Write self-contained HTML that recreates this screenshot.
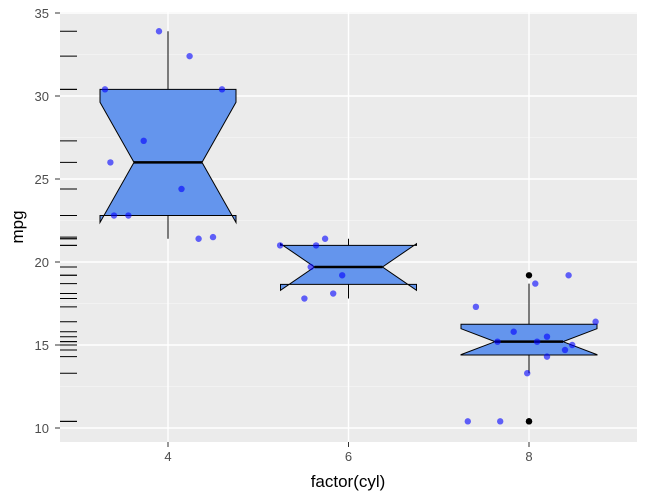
<!DOCTYPE html>
<html><head><meta charset="utf-8"><style>
body{margin:0;background:#fff;}
svg text{font-family:"Liberation Sans",sans-serif;}
</style></head><body>
<svg id="chart" width="649" height="498" xmlns="http://www.w3.org/2000/svg">
<rect x="60" y="12" width="577" height="430" fill="#ebebeb"/>
<g id="grid"></g><g id="marks"></g><g id="axes"></g>
<text x="348" y="487" font-size="17" text-anchor="middle" fill="#000">factor(cyl)</text>
<text x="23" y="227" font-size="17" text-anchor="middle" fill="#000" transform="rotate(-90 23 227)">mpg</text>
</svg>
<script>
const categories=["4","6","8"];
const mpg4=[33.9,32.4,30.4,30.4,27.3,26.0,24.4,22.8,22.8,21.4,21.5];
const jit4=[-0.10,0.24,-0.70,0.60,-0.27,-0.64,0.15,-0.60,-0.44,0.34,0.50];
const mpg6=[21.0,21.0,21.4,19.2,19.7,17.8,18.1];
const jit6=[-0.76,-0.36,-0.26,-0.07,-0.42,-0.49,-0.17];
const mpg8=[17.3,18.7,19.2,16.4,15.8,15.2,15.2,15.5,14.3,14.7,15.0,13.3,10.4,10.4];
const jit8=[-0.59,0.07,0.44,0.74,-0.17,-0.35,0.09,0.20,0.20,0.40,0.48,-0.02,-0.68,-0.32];
const yTicks=[10,15,20,25,30,35];
const ns="http://www.w3.org/2000/svg";
const X=i=>168+i*180.5, Y=v=>428-(v-10)*16.6;
function el(t,a,p){const e=document.createElementNS(ns,t);for(const k in a)e.setAttribute(k,a[k]);document.getElementById(p).appendChild(e);return e;}
function q(s,p){const pos=(s.length-1)*p,lo=Math.floor(pos),hi=Math.ceil(pos);return s[lo]+(s[hi]-s[lo])*(pos-lo);}
for(let v=12.5;v<35;v+=5){const e=el('line',{x1:60,x2:637,y1:Y(v),y2:Y(v),stroke:'#f5f5f5','stroke-width':0.8},'grid');

}
yTicks.forEach(v=>{const e=el('line',{x1:60,x2:637,y1:Y(v),y2:Y(v),stroke:'#fff','stroke-width':1.4},'grid');


const t=el('text',{x:49,y:Y(v)+5,'font-size':13,'text-anchor':'end',fill:'#4d4d4d'},'axes');t.textContent=v;


const k=el('line',{x1:55,x2:60,y1:Y(v),y2:Y(v),stroke:'#333'},'axes');

});
categories.forEach((c,i)=>{const e=el('line',{x1:X(i),x2:X(i),y1:12,y2:442,stroke:'#fff','stroke-width':1.4},'grid');


const t=el('text',{x:X(i),y:461,'font-size':13,'text-anchor':'middle',fill:'#4d4d4d'},'axes');t.textContent=c;


const k=el('line',{x1:X(i),x2:X(i),y1:442,y2:447,stroke:'#333'},'axes');

});
const groups=[mpg4,mpg6,mpg8], jits=[jit4,jit6,jit8];
groups.forEach((g,i)=>{
 const s=[...g].sort((a,b)=>a-b), med=q(s,.5), q1=q(s,.25), q3=q(s,.75), iqr=q3-q1;
 const inl=s.filter(v=>v>=q1-1.5*iqr&&v<=q3+1.5*iqr), out=s.filter(v=>v<q1-1.5*iqr||v>q3+1.5*iqr);
 const nl=med-1.58*iqr/Math.sqrt(s.length), nu=med+1.58*iqr/Math.sqrt(s.length);
 const cx=X(i), hw=68, nw=34;
 const w=el('line',{x1:cx,x2:cx,y1:Y(inl[0]),y2:Y(inl[inl.length-1]),stroke:'#000','stroke-width':1},'marks');
 
 
 const pts=[[cx-hw,Y(q3)],[cx-hw,Y(nu)],[cx-nw,Y(med)],[cx-hw,Y(nl)],[cx-hw,Y(q1)],[cx+hw,Y(q1)],[cx+hw,Y(nl)],[cx+nw,Y(med)],[cx+hw,Y(nu)],[cx+hw,Y(q3)]];
 const b=el('polygon',{points:pts.map(p=>p.join(',')).join(' '),fill:'#6495ed',stroke:'#000','stroke-width':1},'marks');
 
 
 const m=el('line',{x1:cx-nw,x2:cx+nw,y1:Y(med),y2:Y(med),stroke:'#000','stroke-width':2.5},'marks');
 
 
 out.forEach(v=>{const o=el('circle',{cx:cx,cy:Y(v),r:3.2,fill:'#000'},'marks');
 
 });
 g.forEach((v,j)=>{const p=el('circle',{cx:cx+jits[i][j]*90,cy:Y(v),r:3.2,fill:'#0000ff','fill-opacity':0.6},'marks');
 
 
 const r=el('line',{x1:60,x2:77,y1:Y(v),y2:Y(v),stroke:'#000','stroke-width':1},'marks');
 
 });
});
</script>
</body></html>
